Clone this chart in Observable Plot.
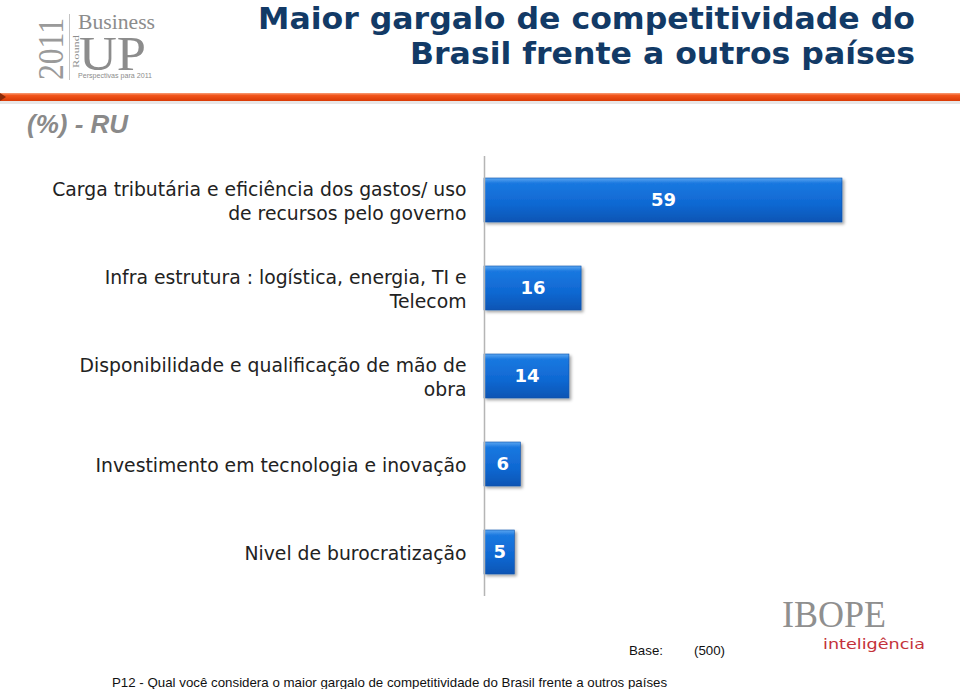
<!DOCTYPE html>
<html>
<head>
<meta charset="utf-8">
<script src="https://cdn.jsdelivr.net/npm/d3@7"></script>
<script src="https://cdn.jsdelivr.net/npm/@observablehq/plot@0.6"></script>
<style>
  html, body { margin: 0; padding: 0; background: #fff; width: 960px; height: 689px; overflow: hidden; }
  #wrap { position: relative; width: 960px; height: 689px; }
  #chart, #deco { position: absolute; left: 0; top: 0; }
  #deco { pointer-events: none; }
</style>
</head>
<body>
<div id="wrap">
  <div id="chart"></div>
  <svg id="deco" width="960" height="689" xmlns="http://www.w3.org/2000/svg"></svg>
</div>
<script>
// ---- Data ----
const categories = [
  "Carga tributária e eficiência dos gastos/ uso\nde recursos pelo governo",
  "Infra estrutura : logística, energia, TI e\nTelecom",
  "Disponibilidade e qualificação de mão de\nobra",
  "Investimento em tecnologia e inovação",
  "Nivel de burocratização"
];
const values = [59, 16, 14, 6, 5];
const titleLines = ["Maior gargalo de competitividade do", "Brasil frente a outros países"];
const subtitle = "(%) - RU";
const baseLabel = "Base:";
const baseValue = "(500)";
const footnote = "P12 - Qual você considera o maior gargalo de competitividade do Brasil frente a outros países";

const data = categories.map((c, i) => ({category: c, value: values[i]}));

const chart = Plot.plot({
  width: 960,
  height: 689,
  marginLeft: 484,
  marginRight: 118,
  marginTop: 156,
  marginBottom: 93,
  style: {fontFamily: "'DejaVu Sans', Verdana, sans-serif", background: "transparent"},
  x: {domain: [0, 59], axis: null},
  y: {domain: categories, paddingInner: 0.5, paddingOuter: 0.25, label: null},
  marks: [
    Plot.barX(data, {x: "value", y: "category", fill: "url(#barGrad)",
      stroke: "#0b4fa8", strokeWidth: 0.6}),
    Plot.ruleX([0], {stroke: "#b5b5b5", strokeWidth: 1.5}),
    Plot.axisY({tickSize: 0, tickPadding: 18, fontSize: 18.8, lineHeight: 1.24, fill: "#222"}),
    Plot.text(data, {x: d => d.value / 2, y: "category", text: d => String(d.value),
      fill: "white", fontWeight: "bold", fontSize: 18})
  ]
});

// gradient + shadow defs
const svg = d3.select(chart);
const defs = svg.insert("defs", ":first-child");
const g = defs.append("linearGradient").attr("id", "barGrad").attr("x1", 0).attr("y1", 0).attr("x2", 0).attr("y2", 1);
g.append("stop").attr("offset", "0%").attr("stop-color", "#5aa6f0");
g.append("stop").attr("offset", "12%").attr("stop-color", "#1a78e0");
g.append("stop").attr("offset", "60%").attr("stop-color", "#0f68d2");
g.append("stop").attr("offset", "100%").attr("stop-color", "#0a55b4");
const f = defs.append("filter").attr("id", "shadow").attr("x", "-10%").attr("y", "-20%").attr("width", "130%").attr("height", "160%");
f.append("feDropShadow").attr("dx", 2).attr("dy", 2).attr("stdDeviation", 1.5).attr("flood-color", "#000").attr("flood-opacity", 0.35);
svg.selectAll("g[aria-label='bar'] rect").attr("filter", "url(#shadow)");

document.getElementById("chart").appendChild(chart);

// ---- Decorations (header, logos, footer) ----
const deco = d3.select("#deco");
const dd = deco.append("defs");
const rg = dd.append("linearGradient").attr("id", "redLine").attr("x1", 0).attr("y1", 0).attr("x2", 0).attr("y2", 1);
rg.append("stop").attr("offset", "0%").attr("stop-color", "#f9a07a");
rg.append("stop").attr("offset", "30%").attr("stop-color", "#f2561c");
rg.append("stop").attr("offset", "100%").attr("stop-color", "#d93a05");
deco.append("rect").attr("x", 0).attr("y", 101).attr("width", 960).attr("height", 3).attr("fill", "#ddd").attr("opacity", 0.7);
deco.append("rect").attr("x", 0).attr("y", 93).attr("width", 960).attr("height", 8).attr("fill", "url(#redLine)");
deco.append("path").attr("d", "M0,93 L6,97 L0,101 Z").attr("fill", "#8a2a08");

// title
const titleWidths = [657, 505];
titleLines.forEach((t, i) => {
  deco.append("text").attr("x", 915).attr("y", 29 + i * 35).attr("text-anchor", "end")
    .attr("font-family", "'DejaVu Sans', sans-serif").attr("font-weight", "bold")
    .attr("font-size", 30).attr("fill", "#123a66")
    .attr("textLength", titleWidths[i]).attr("lengthAdjust", "spacingAndGlyphs").text(t);
});

// subtitle
deco.append("text").attr("x", 27).attr("y", 133).attr("font-family", "'Liberation Sans', Arial, sans-serif")
  .attr("font-style", "italic").attr("font-weight", "bold").attr("font-size", 26).attr("fill", "#8a8a8a").text(subtitle);

// Business Round UP logo
const lg = deco.append("g").attr("fill", "#8c8c8c").attr("font-family", "'Liberation Serif', 'DejaVu Serif', serif");
lg.append("text").attr("transform", "translate(63,80) rotate(-90)").attr("font-size", 35).attr("fill", "#9a9a9a")
  .attr("textLength", 62).attr("lengthAdjust", "spacingAndGlyphs").text("2011");
lg.append("line").attr("x1", 69.5).attr("x2", 69.5).attr("y1", 14).attr("y2", 80).attr("stroke", "#c4c4c4").attr("stroke-width", 1);
lg.append("text").attr("transform", "translate(78.5,68) rotate(-90)").attr("font-size", 8)
  .attr("textLength", 33).attr("lengthAdjust", "spacingAndGlyphs").text("Round");
lg.append("text").attr("x", 78).attr("y", 29).attr("font-size", 22)
  .attr("textLength", 77).attr("lengthAdjust", "spacingAndGlyphs").text("Business");
lg.append("text").attr("x", 79).attr("y", 70).attr("font-size", 48)
  .attr("textLength", 67).attr("lengthAdjust", "spacingAndGlyphs").text("UP");
lg.append("text").attr("x", 78).attr("y", 78).attr("font-size", 6.5).attr("font-family", "'Liberation Sans', Arial, sans-serif")
  .attr("textLength", 74).attr("lengthAdjust", "spacingAndGlyphs").text("Perspectivas para 2011");

// IBOPE logo
deco.append("text").attr("x", 782).attr("y", 627).attr("font-family", "'Liberation Serif', serif")
  .attr("font-size", 38).attr("fill", "#8f8f8f").attr("textLength", 104).attr("lengthAdjust", "spacingAndGlyphs").text("IBOPE");
deco.append("text").attr("x", 823).attr("y", 649).attr("font-family", "'DejaVu Sans', sans-serif")
  .attr("font-size", 14.5).attr("fill", "#c4323a").attr("textLength", 102).attr("lengthAdjust", "spacingAndGlyphs").text("inteligência");

// footer
const ft = deco.append("g").attr("font-family", "'Liberation Sans', Arial, sans-serif").attr("font-size", 13.3).attr("fill", "#111");
ft.append("text").attr("x", 629).attr("y", 655).text(baseLabel);
ft.append("text").attr("x", 694).attr("y", 655).text(baseValue);
ft.append("text").attr("x", 112).attr("y", 687).text(footnote);
</script>
</body>
</html>
